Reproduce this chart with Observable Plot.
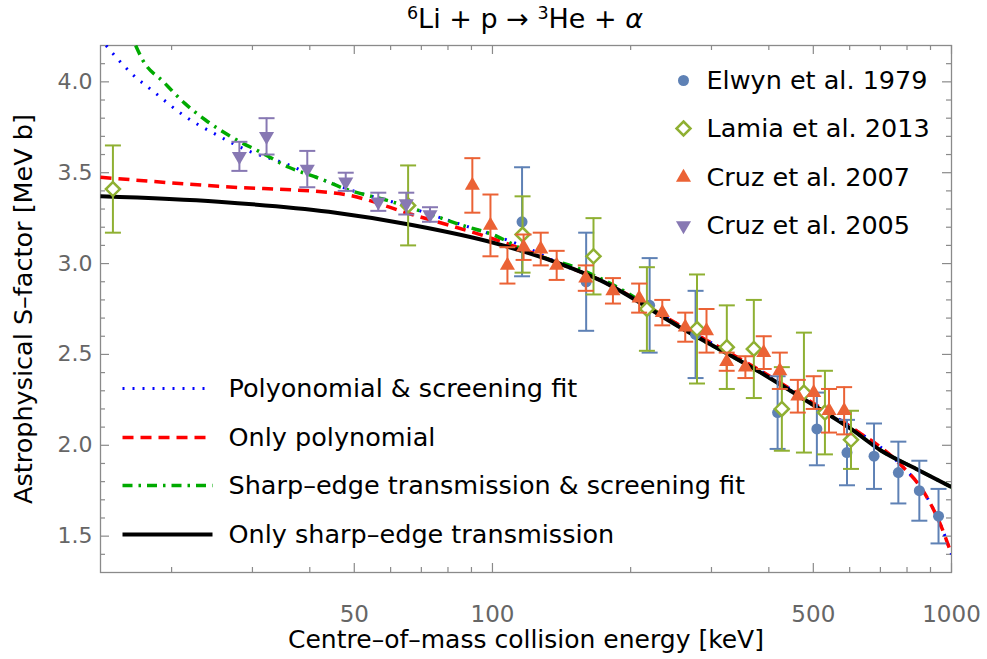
<!DOCTYPE html>
<html><head><meta charset="utf-8">
<script src="https://cdn.jsdelivr.net/npm/d3@7"></script>
<script src="https://cdn.jsdelivr.net/npm/@observablehq/plot@0.6"></script>
<style>
body{margin:0;background:#fff;font-family:"DejaVu Sans",sans-serif;}
#title{position:relative;height:34px;width:987px;}
#title span{position:absolute;left:0;top:4px;width:987px;padding-left:63px;box-sizing:border-box;text-align:center;font-size:27px;line-height:30px;white-space:nowrap;color:#000;}
#title sup{font-size:0.65em;vertical-align:0;position:relative;top:-0.5em;}
</style></head><body>
<div id="title"><span><sup>6</sup>Li + p → <sup>3</sup>He + <i>α</i></span></div>
<div id="chart"></div>
<script>
// ---- data ----
const elwynE   = [116, 160, 220, 277, 418, 509, 592, 678, 766, 851, 937];
const elwynS   = [3.23, 2.90, 2.77, 2.61, 2.18, 2.09, 1.96, 1.94, 1.85, 1.75, 1.61];
const elwynErr = [0.30, 0.27, 0.26, 0.24, 0.20, 0.20, 0.18, 0.18, 0.17, 0.165, 0.15];

const lamiaE   = [14.9, 65.5, 116.3, 166, 217, 279, 324, 371, 427, 477, 530, 604];
const lamiaS   = [3.41, 3.32, 3.16, 3.04, 2.75, 2.64, 2.54, 2.53, 2.20, 2.29, 2.18, 2.03];
const lamiaErr = [0.24, 0.22, 0.21, 0.21, 0.23, 0.30, 0.23, 0.27, 0.23, 0.33, 0.23, 0.16];

const cruz07E   = [90.4, 99, 107.8, 116.9, 127.4, 138, 159.7, 183, 208.7, 234.4, 263, 292.6, 323.8, 355.6, 389.9, 422.7, 462.6, 501, 541, 583.6];
const cruz07S   = [3.43, 3.21, 2.99, 3.09, 3.08, 2.99, 2.92, 2.85, 2.81, 2.73, 2.65, 2.63, 2.46, 2.43, 2.51, 2.41, 2.27, 2.29, 2.19, 2.19];
const cruz07Err = [0.15, 0.17, 0.10, 0.07, 0.09, 0.08, 0.07, 0.07, 0.08, 0.07, 0.08, 0.12, 0.05, 0.06, 0.09, 0.10, 0.09, 0.09, 0.12, 0.13];

const cruz05E   = [28.1, 32.2, 39.5, 47.9, 56.4, 64.9, 73.1];
const cruz05S   = [3.59, 3.70, 3.52, 3.45, 3.34, 3.33, 3.27];
const cruz05Err = [0.08, 0.10, 0.10, 0.05, 0.05, 0.06, 0.04];

// fit curves
const sharpE = [14, 25.3, 44, 66.8, 102, 140, 171, 256, 384, 501, 604, 703, 838, 1000];
const sharpS = [3.37, 3.34, 3.285, 3.212, 3.11, 3.00, 2.91, 2.65, 2.40, 2.22, 2.09, 1.97, 1.87, 1.77];

const polyE = [14, 25.3, 46.3, 66.8, 102, 140, 171, 256, 384, 501, 613, 766, 874, 951, 1000];
const polyS = [3.475, 3.425, 3.385, 3.27, 3.13, 3.00, 2.91, 2.66, 2.41, 2.23, 2.09, 1.905, 1.735, 1.55, 1.40];

const polyScrE = [14.4, 16.3, 18.4, 21.4, 25, 29.4, 35.4, 41.8, 51.2, 60.4, 75.4, 89.1, 105, 120.5, 140, 171, 256, 384, 501, 613, 766, 874, 951, 1000];
const polyScrS = [4.20, 4.05, 3.94, 3.81, 3.71, 3.62, 3.55, 3.47, 3.39, 3.34, 3.26, 3.20, 3.14, 3.08, 3.00, 2.91, 2.66, 2.41, 2.23, 2.09, 1.905, 1.735, 1.55, 1.40];

const sharpScrE = [16.7, 17.3, 19.2, 21.4, 23.7, 27.3, 31.4, 36, 41.8, 47.9, 60.4, 75.4, 86, 100, 120.5, 155, 187, 256, 384, 501, 604, 703, 838, 1000];
const sharpScrS = [4.20, 4.12, 4.00, 3.88, 3.79, 3.69, 3.61, 3.53, 3.47, 3.41, 3.34, 3.26, 3.21, 3.16, 3.06, 2.97, 2.87, 2.65, 2.40, 2.22, 2.09, 1.97, 1.87, 1.77];

// ticks
const xMajor = [50, 100, 500, 1000];
const xMinor = [20, 30, 40, 60, 70, 80, 90, 200, 300, 400, 600, 700, 800, 900];
const yMajor = [1.5, 2.0, 2.5, 3.0, 3.5, 4.0];
const yMinor = [1.4, 1.6, 1.7, 1.8, 1.9, 2.1, 2.2, 2.3, 2.4, 2.6, 2.7, 2.8, 2.9, 3.1, 3.2, 3.3, 3.4, 3.6, 3.7, 3.8, 3.9, 4.1];
const xTickLabels = ["50", "100", "500", "1000"];
const yTickLabels = ["1.5", "2.0", "2.5", "3.0", "3.5", "4.0"];

const xTitle = "Centre–of–mass collision energy [keV]";
const yTitle = "Astrophysical S–factor [MeV b]";

// ---- layout ----
const W = 987, H = 625, mL = 100, mR = 36, mT = 11, mB = 87;
const FW = W - mL - mR, FH = H - mT - mB;
const frameColor = "#8a8a8a";
const tickText = "#666666";

const hline = (half) => ({draw(ctx) { ctx.moveTo(-half, 0); ctx.lineTo(half, 0); }});
const S3 = Math.sqrt(3);
const triUp = {draw(ctx, size) { const y = -Math.sqrt(size / (S3 * 3)); ctx.moveTo(0, y * 2); ctx.lineTo(-S3 * y, -y); ctx.lineTo(S3 * y, -y); ctx.closePath(); }};
const triDown = {draw(ctx, size) { const y = -Math.sqrt(size / (S3 * 3)); ctx.moveTo(0, -y * 2); ctx.lineTo(-S3 * y, y); ctx.lineTo(S3 * y, y); ctx.closePath(); }};

const series = [
  {name: "Elwyn et al. 1979", E: elwynE, S: elwynS, err: elwynErr, color: "#5E81B5", symbol: "circle", r: 5.5, fill: "#5E81B5", stroke: "none", sw: 0},
  {name: "Lamia et al. 2013", E: lamiaE, S: lamiaS, err: lamiaErr, color: "#8FB032", symbol: "diamond2", r: 6.3, fill: "white", stroke: "#8FB032", sw: 2.5},
  {name: "Cruz et al. 2007", E: cruz07E, S: cruz07S, err: cruz07Err, color: "#EB6235", symbol: triUp, r: 5.6, fill: "#EB6235", stroke: "none", sw: 0},
  {name: "Cruz et al. 2005", E: cruz05E, S: cruz05S, err: cruz05Err, color: "#8778B3", symbol: triDown, r: 5.6, fill: "#8778B3", stroke: "none", sw: 0}
];

const curves = [
  {name: "Polyonomial & screening fit", E: polyScrE, S: polyScrS, stroke: "#0000ff", sw: 3, dash: "2,8", cap: "butt"},
  {name: "Only polynomial", E: polyE, S: polyS, stroke: "#ff0000", sw: 3.5, dash: "11,7", cap: "butt"},
  {name: "Sharp–edge transmission & screening fit", E: sharpScrE, S: sharpScrS, stroke: "#00aa00", sw: 3.5, dash: "10,6,2.5,6", cap: "butt"},
  {name: "Only sharp–edge transmission", E: sharpE, S: sharpS, stroke: "#000000", sw: 4, dash: null, cap: "butt"}
];

const marks = [];
// frame ticks (inward)
marks.push(Plot.ruleY(yMajor, {y: d => d, insetRight: FW - 9, stroke: frameColor, strokeWidth: 1.2}));
marks.push(Plot.ruleY(yMinor, {y: d => d, insetRight: FW - 5, stroke: frameColor, strokeWidth: 1.2}));
marks.push(Plot.ruleY(yMajor, {y: d => d, insetLeft: FW - 9, stroke: frameColor, strokeWidth: 1.2}));
marks.push(Plot.ruleY(yMinor, {y: d => d, insetLeft: FW - 5, stroke: frameColor, strokeWidth: 1.2}));
marks.push(Plot.ruleX(xMajor, {x: d => d, insetTop: FH - 9, stroke: frameColor, strokeWidth: 1.2}));
marks.push(Plot.ruleX(xMinor, {x: d => d, insetTop: FH - 5, stroke: frameColor, strokeWidth: 1.2}));
marks.push(Plot.ruleX(xMajor, {x: d => d, insetBottom: FH - 9, stroke: frameColor, strokeWidth: 1.2}));
marks.push(Plot.ruleX(xMinor, {x: d => d, insetBottom: FH - 5, stroke: frameColor, strokeWidth: 1.2}));
marks.push(Plot.frame({stroke: frameColor, strokeWidth: 1.3}));

// curves
for (const c of curves) {
  const rows = c.E.map((e, i) => ({E: e, S: c.S[i]}));
  marks.push(Plot.line(rows, {x: "E", y: "S", stroke: c.stroke, strokeWidth: c.sw, strokeDasharray: c.dash, strokeLinecap: c.cap, curve: "monotone-x", clip: true}));
}

// data with error bars
for (const s of series) {
  const rows = s.E.map((e, i) => ({E: e, S: s.S[i], err: s.err[i]}));
  marks.push(Plot.ruleX(rows, {x: "E", y1: d => d.S - d.err, y2: d => d.S + d.err, stroke: s.color, strokeWidth: 2}));
  marks.push(Plot.dot(rows, {x: "E", y: d => d.S + d.err, symbol: hline(8), stroke: s.color, strokeWidth: 2}));
  marks.push(Plot.dot(rows, {x: "E", y: d => d.S - d.err, symbol: hline(8), stroke: s.color, strokeWidth: 2}));
  marks.push(Plot.dot(rows, {x: "E", y: "S", symbol: s.symbol, r: s.r, fill: s.fill, stroke: s.stroke, strokeWidth: s.sw}));
}

// tick labels and axis titles
marks.push(Plot.text(xMajor, {x: d => d, text: (d, i) => xTickLabels[i], frameAnchor: "bottom", dy: 42, lineAnchor: "middle", textAnchor: "middle", fill: tickText, fontSize: 23}));
marks.push(Plot.text(yMajor, {y: d => d, text: (d, i) => yTickLabels[i], frameAnchor: "left", dx: -8, lineAnchor: "middle", textAnchor: "end", fill: tickText, fontSize: 22}));
marks.push(Plot.text([xTitle], {text: d => d, frameAnchor: "bottom", dy: 67, lineAnchor: "middle", textAnchor: "middle", fill: "black", fontSize: 25}));
marks.push(Plot.text([yTitle], {text: d => d, frameAnchor: "left", dx: -77, rotate: -90, lineAnchor: "middle", textAnchor: "middle", fill: "black", fontSize: 25.5}));

// legend: data (top right)
const legDy = [35, 83, 132, 180];
series.forEach((s, i) => {
  marks.push(Plot.dot([s.name], {frameAnchor: "top-left", dx: 583, dy: legDy[i], symbol: s.symbol, r: s.r, fill: s.fill, stroke: s.stroke, strokeWidth: s.sw}));
  marks.push(Plot.text([s.name], {text: d => d, frameAnchor: "top-left", dx: 606, dy: legDy[i], lineAnchor: "middle", textAnchor: "start", fill: "black", fontSize: 25.5}));
});
// legend: curves (bottom left)
const legLy = [343, 392, 440, 489];
curves.forEach((c, i) => {
  marks.push(Plot.dot([c.name], {frameAnchor: "top-left", dx: 67, dy: legLy[i], symbol: hline(45), stroke: c.stroke, strokeWidth: c.sw, strokeDasharray: c.dash, strokeLinecap: c.cap}));
  marks.push(Plot.text([c.name], {text: d => d, frameAnchor: "top-left", dx: 128, dy: legLy[i], lineAnchor: "middle", textAnchor: "start", fill: "black", fontSize: 25.5}));
});

const chart = Plot.plot({
  width: W, height: H,
  marginLeft: mL, marginRight: mR, marginTop: mT, marginBottom: mB,
  style: {fontFamily: "DejaVu Sans, sans-serif", fontSize: "22px", background: "white", overflow: "visible"},
  x: {type: "log", domain: [14, 1000], axis: null},
  y: {type: "linear", domain: [1.3, 4.2], axis: null},
  marks
});
document.getElementById("chart").appendChild(chart);
</script></body></html>
